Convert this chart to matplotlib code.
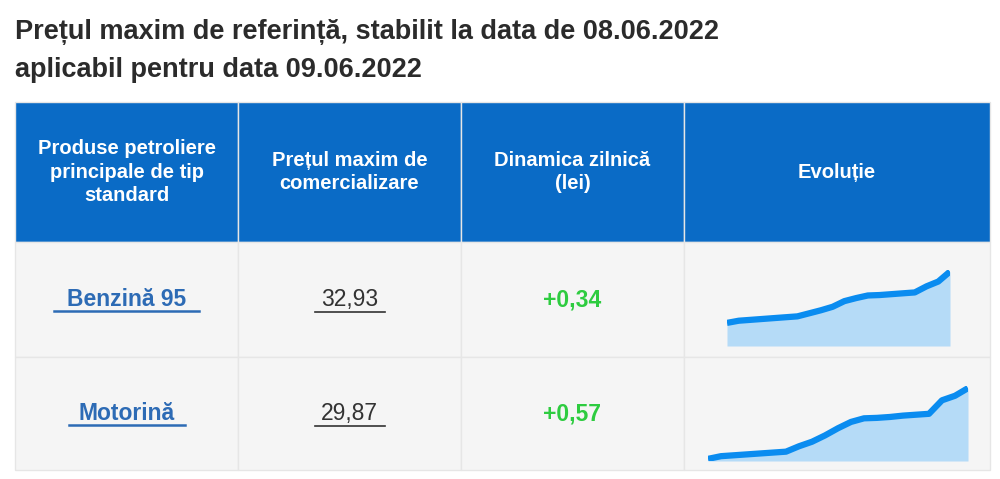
import matplotlib.pyplot as plt
from matplotlib.patches import Rectangle
from matplotlib.lines import Line2D

plt.rcParams['font.family'] = ['Liberation Sans', 'DejaVu Sans']

W, H = 1000, 479
title_lines = ["Prețul maxim de referință, stabilit la data de 08.06.2022",
               "aplicabil pentru data 09.06.2022"]
headers = ["Produse petroliere\nprincipale de tip\nstandard",
           "Prețul maxim de\ncomercializare",
           "Dinamica zilnică\n(lei)",
           "Evoluție"]
products = ["Benzină 95", "Motorină"]
prices = ["32,93", "29,87"]
changes = ["+0,34", "+0,57"]
benzina = [31.75, 31.80, 31.82, 31.84, 31.86, 31.88, 31.90, 31.97, 32.04, 32.12,
           32.25, 32.32, 32.38, 32.39, 32.41, 32.43, 32.45, 32.59, 32.70, 32.93]
motorina = [28.30, 28.36, 28.38, 28.40, 28.42, 28.44, 28.46, 28.58, 28.68, 28.82,
            28.98, 29.12, 29.20, 29.21, 29.23, 29.26, 29.28, 29.30, 29.60, 29.70, 29.87]
series = [benzina, motorina]

col_x = [15, 238, 461, 684, 990]
row_y = [102, 242, 357, 470]
spark_box = [(727, 270, 950, 346), (708, 386, 968, 461)]

fig = plt.figure(figsize=(10, 4.79), dpi=100)
fig.patch.set_facecolor('white')
bg = fig.add_axes([0, 0, 1, 1])
bg.set_xlim(0, W)
bg.set_ylim(H, 0)
bg.axis('off')

for i, t in enumerate(title_lines):
    bg.text(15, 32 + 38 * i, t, fontsize=19.5, fontweight='bold', color='#2b2b2b',
            ha='left', va='center')

# header
for c in range(4):
    bg.add_patch(Rectangle((col_x[c], row_y[0]), col_x[c + 1] - col_x[c], row_y[1] - row_y[0],
                           facecolor='#0a6bc6', edgecolor='#e6e6e6', lw=1))
    bg.text((col_x[c] + col_x[c + 1]) / 2, (row_y[0] + row_y[1]) / 2, headers[c],
            color='white', fontsize=14.5, fontweight='bold', ha='center', va='center',
            linespacing=1.3)

for r in range(2):
    y0, y1 = row_y[r + 1], row_y[r + 2]
    yc = (y0 + y1) / 2
    for c in range(4):
        bg.add_patch(Rectangle((col_x[c], y0), col_x[c + 1] - col_x[c], y1 - y0,
                               facecolor='#f5f5f5', edgecolor='#e6e6e6', lw=1))
    xc = (col_x[0] + col_x[1]) / 2
    bg.text(xc, yc, products[r], color='#2d6bb5', fontsize=16.5, fontweight='bold',
            ha='center', va='center')
    tw = len(products[r]) * 14.5
    bg.add_line(Line2D([xc - tw / 2, xc + tw / 2], [yc + 11, yc + 11], color='#2d6bb5', lw=1.8))
    xc = (col_x[1] + col_x[2]) / 2
    bg.text(xc, yc, prices[r], color='#333333', fontsize=16.5, ha='center', va='center')
    bg.add_line(Line2D([xc - 35, xc + 35], [yc + 12, yc + 12], color='#333333', lw=1.2))
    bg.text((col_x[2] + col_x[3]) / 2, yc, changes[r], color='#2ecc40', fontsize=16.5,
            fontweight='bold', ha='center', va='center')

    x0, ya, x1, yb = spark_box[r]
    ax = fig.add_axes([x0 / W, 1 - yb / H, (x1 - x0) / W, (yb - ya) / H])
    vals = series[r]
    xs = range(len(vals))
    lo = min(vals) - (max(vals) - min(vals)) * (0.45 if r == 0 else 0.03)
    ax.fill_between(xs, vals, lo, color='#b5dbf7', lw=0)
    ax.plot(xs, vals, color='#0a8cf0', lw=4.5, solid_capstyle='butt')
    ax.set_xlim(0, len(vals) - 1)
    ax.set_ylim(lo, max(vals) + (max(vals) - min(vals)) * 0.03)
    ax.axis('off')

fig.savefig('out.png', dpi=100)
